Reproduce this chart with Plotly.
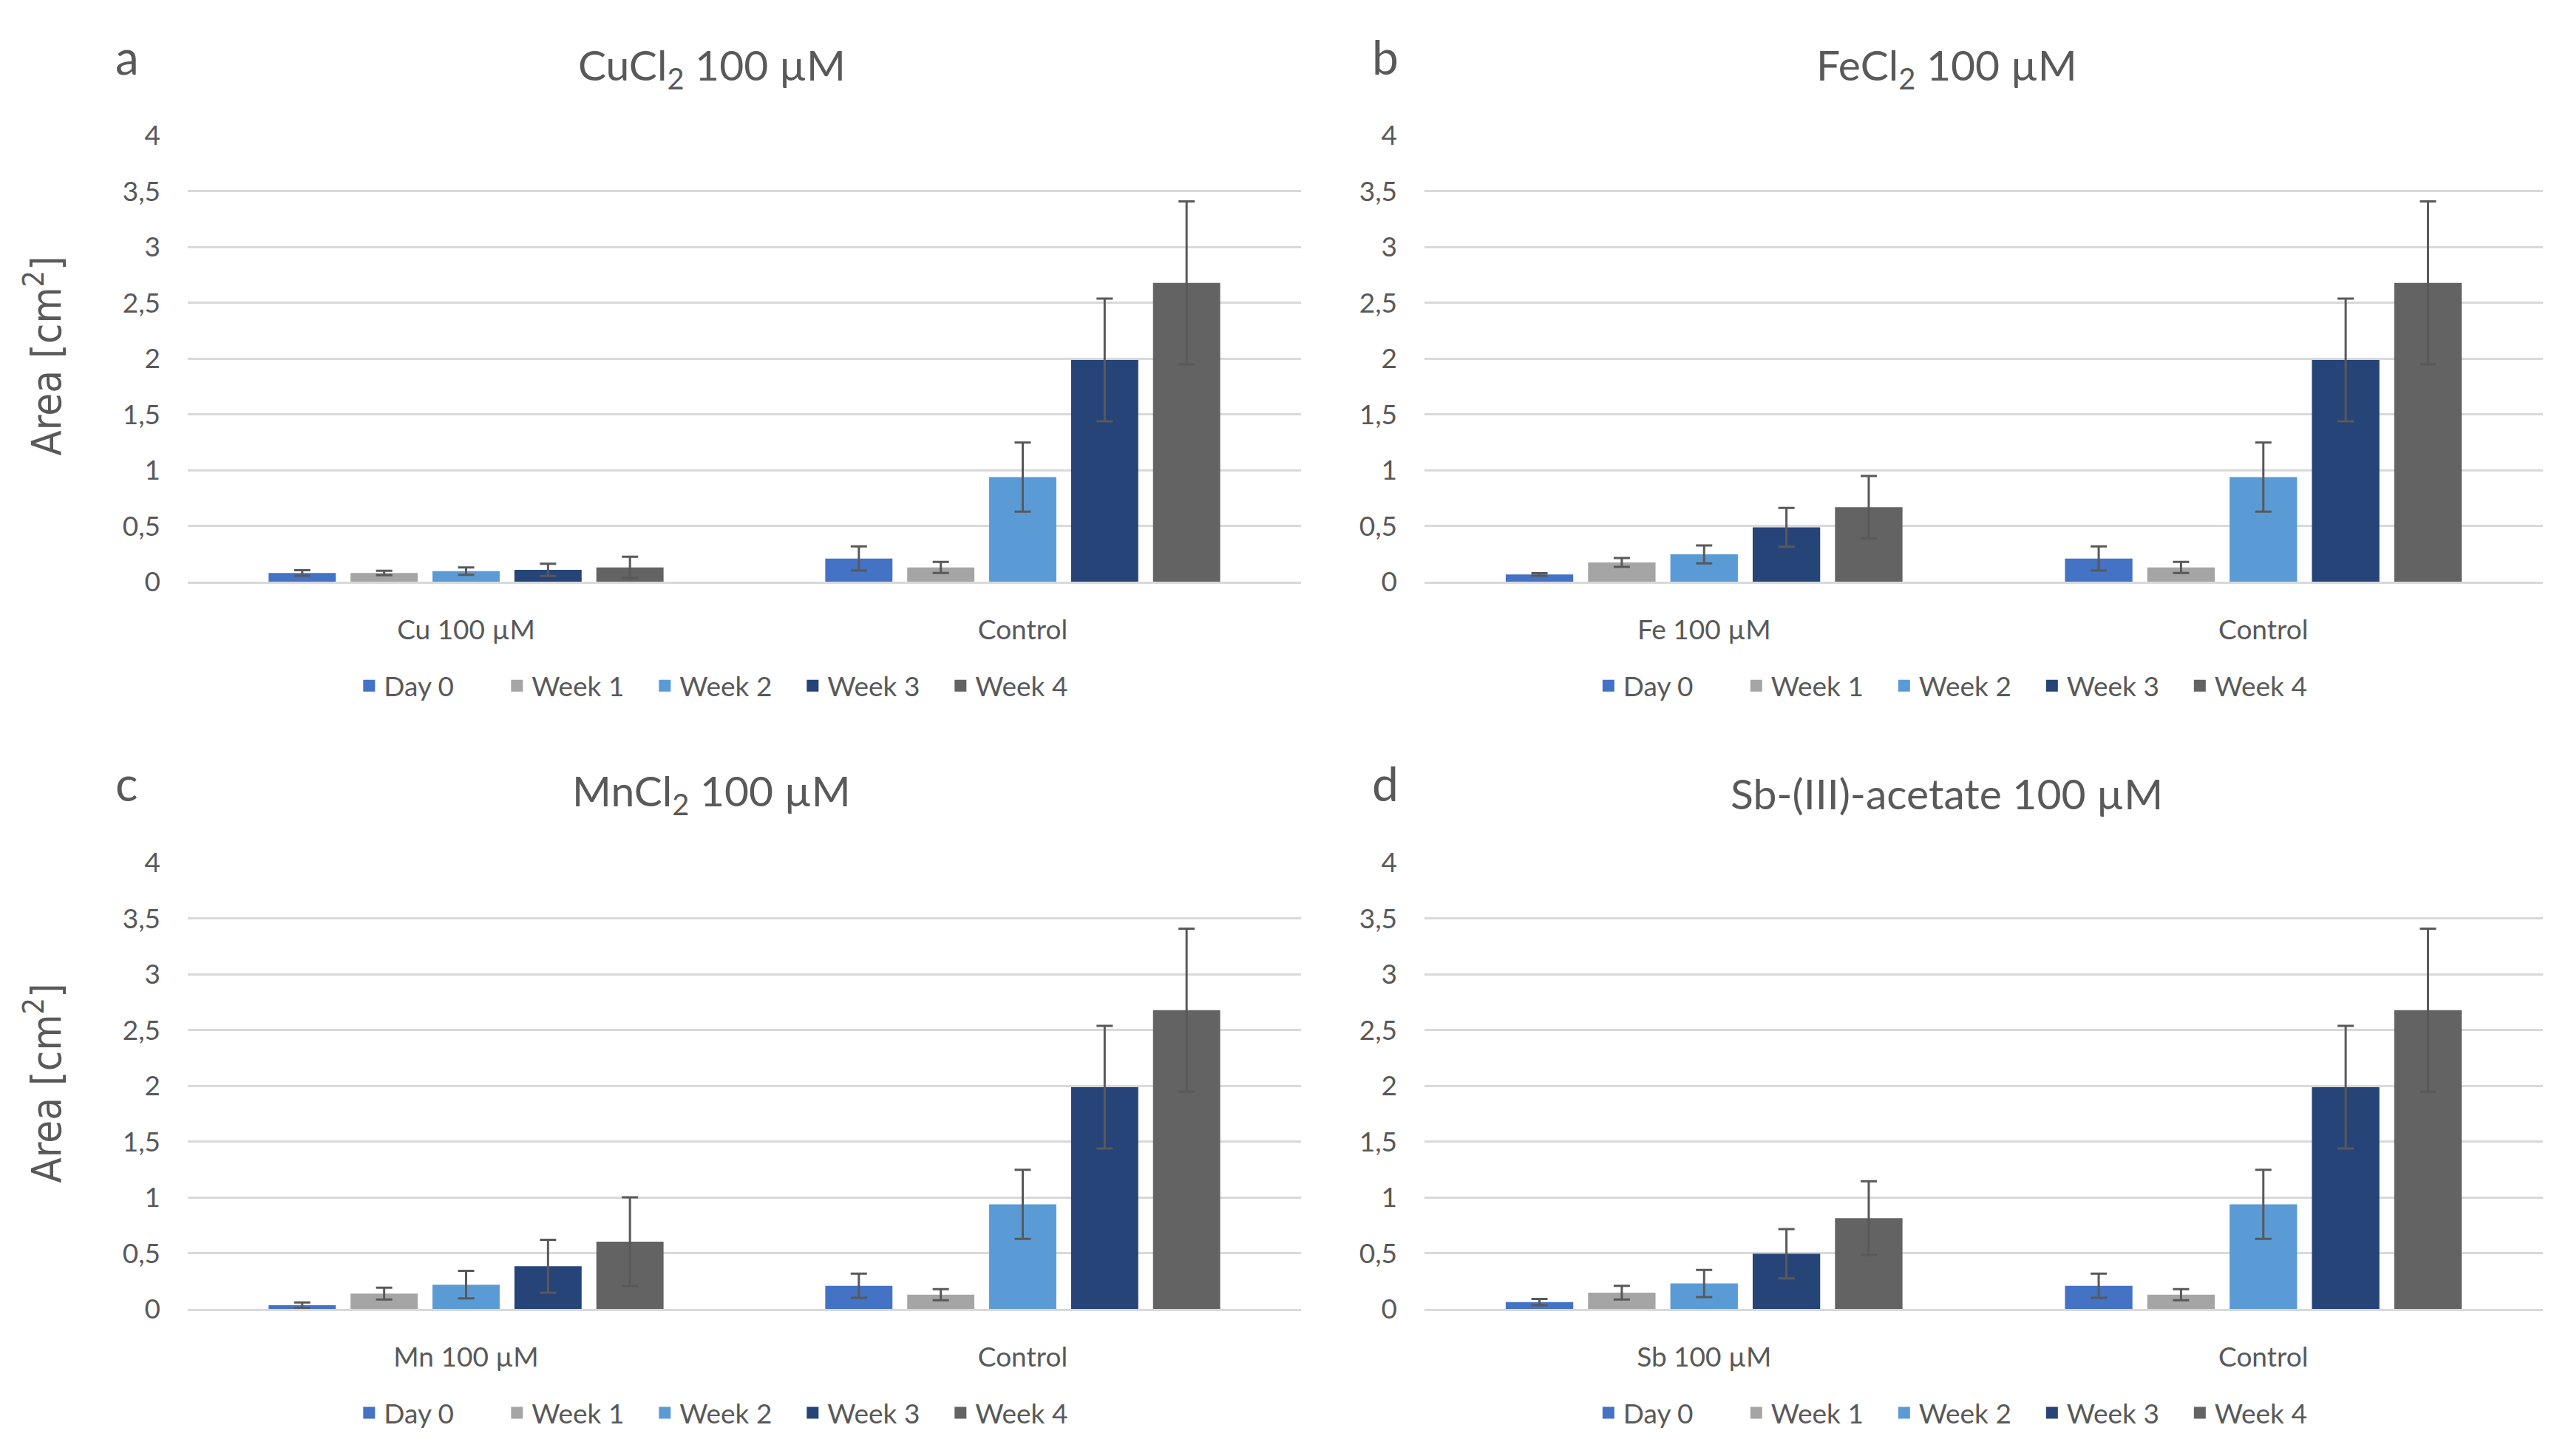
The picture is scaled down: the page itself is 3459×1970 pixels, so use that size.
import plotly.graph_objects as go

# ---------------- data ----------------
series = ["Day 0", "Week 1", "Week 2", "Week 3", "Week 4"]
colors = ["#4472C4", "#A5A5A5", "#5B9BD5", "#264478", "#636363"]

control = [0.21, 0.13, 0.94, 1.99, 2.68]
control_err = [0.108, 0.05, 0.31, 0.55, 0.73]

cu = [0.08, 0.08, 0.096, 0.108, 0.13]
cu_err = [0.025, 0.02, 0.033, 0.055, 0.095]

fe = [0.067, 0.174, 0.247, 0.489, 0.67]
fe_err = [0.012, 0.04, 0.08, 0.174, 0.28]

mn = [0.035, 0.14, 0.22, 0.385, 0.605]
mn_err = [0.025, 0.053, 0.124, 0.237, 0.397]

sb = [0.063, 0.148, 0.23, 0.497, 0.816]
sb_err = [0.028, 0.062, 0.122, 0.221, 0.33]

panel_titles = ["CuCl<sub>2</sub> 100 µM", "FeCl<sub>2</sub> 100 µM",
                "MnCl<sub>2</sub> 100 µM", "Sb-(III)-acetate 100 µM"]
panel_letters = ["a", "b", "c", "d"]
treat_labels = ["Cu 100 µM", "Fe 100 µM", "Mn 100 µM", "Sb 100 µM"]
treat_values = [cu, fe, mn, sb]
treat_errors = [cu_err, fe_err, mn_err, sb_err]
y_ticks = [0, 0.5, 1, 1.5, 2, 2.5, 3, 3.5, 4]

# ---------------- layout geometry ----------------
W, H = 3459, 1970
FONT = "Lato, 'Open Sans', sans-serif"
TXT = "#595959"
GRID = "#D9D9D9"

xdoms = [[246 / W, 1752 / W], [1919 / W, 3432 / W]]
ydoms = [[1 - 773 / H, 1 - 155 / H], [1 - 1780 / H, 1 - 1162 / H]]

fig = go.Figure()

for p in range(4):
    row, col = divmod(p, 2)
    ax = "" if p == 0 else str(p + 1)
    leg = "legend" if p == 0 else f"legend{p + 1}"
    cats = [treat_labels[p], "Control"]
    for i, s in enumerate(series):
        fig.add_trace(go.Bar(
            x=cats,
            y=[treat_values[p][i], control[i]],
            name=s,
            marker=dict(color=colors[i], line=dict(width=0)),
            error_y=dict(type="data", array=[treat_errors[p][i], control_err[i]],
                         color=TXT, thickness=3, width=11),
            xaxis="x" + ax, yaxis="y" + ax,
            showlegend=False,
        ))
    # legend entries (square swatches like the original)
    for i, s in enumerate(series):
        fig.add_trace(go.Scatter(
            x=[None], y=[None], mode="markers", name=s,
            marker=dict(symbol="square", size=22, color=colors[i]),
            xaxis="x" + ax, yaxis="y" + ax,
            legend=leg, showlegend=True, hoverinfo="skip",
        ))

    fig.layout["xaxis" + ax] = dict(
        domain=xdoms[col], anchor="y" + ax,
        showgrid=False, showline=True, linecolor=GRID, linewidth=3,
        ticks="", tickfont=dict(family=FONT, size=37, color=TXT),
        ticklabelstandoff=30, fixedrange=True,
    )
    fig.layout["yaxis" + ax] = dict(
        domain=ydoms[row], anchor="x" + ax,
        range=[0, 4], tickvals=y_ticks,
        showgrid=True, gridcolor=GRID, gridwidth=3,
        zeroline=False, showline=False, ticks="",
        tickfont=dict(family=FONT, size=37, color=TXT),
        ticklabelstandoff=36, fixedrange=True,
    )

    cx = (xdoms[col][0] + xdoms[col][1]) / 2
    legend_y = 0.5345 if row == 0 else 0.0234
    fig.layout[leg] = dict(
        orientation="h", x=cx - 0.008, xanchor="center", y=legend_y, yanchor="middle",
        font=dict(family=FONT, size=37, color=TXT),
        bgcolor="rgba(0,0,0,0)", itemwidth=30, traceorder="normal",
        entrywidth=155, entrywidthmode="pixels",
    )

    # title
    tx = [0.276, 0.759][col]
    ty = [0.9695, 0.4590][row]
    fig.add_annotation(text=panel_titles[p], x=tx, y=ty, xref="paper", yref="paper",
                       xanchor="center", yanchor="middle", showarrow=False,
                       font=dict(family=FONT, size=57, color=TXT))
    # panel letter
    lx = [0.0474, 0.5395][col]
    ly = [0.977, 0.466][row]
    fig.add_annotation(text=panel_letters[p], x=lx, y=ly, xref="paper", yref="paper",
                       xanchor="center", yanchor="middle", showarrow=False,
                       font=dict(family=FONT, size=64, color=TXT))
    # y axis title (left panels only)
    if col == 0:
        yy = [0.7665, 0.2553][row]
        fig.add_annotation(text="Area [cm<sup>2</sup>]", x=0.0148, y=yy,
                           xref="paper", yref="paper", textangle=-90,
                           xanchor="center", yanchor="middle", showarrow=False,
                           font=dict(family="'DejaVu Sans Condensed', 'DejaVu Sans', sans-serif",
                                     size=56, color=TXT))

fig.update_layout(
    width=W, height=H,
    margin=dict(l=0, r=0, t=0, b=0),
    paper_bgcolor="white", plot_bgcolor="white",
    barmode="group", bargap=0.264, bargroupgap=0.18,
    separators=", ",
    font=dict(family=FONT, color=TXT),
)

fig.write_html("out.html")
